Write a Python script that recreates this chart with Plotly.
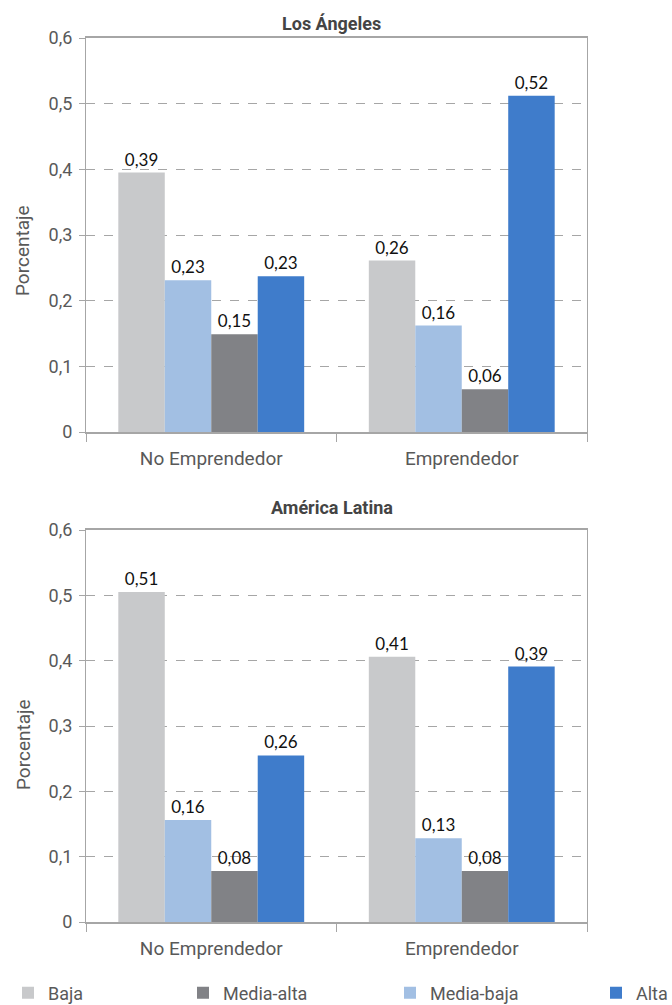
import plotly.graph_objects as go

categories = ["No Emprendedor", "Emprendedor"]
series = ["Baja", "Media-baja", "Media-alta", "Alta"]
legend_order = ["Baja", "Media-alta", "Media-baja", "Alta"]
colors = {"Baja": "#C8C9CB", "Media-baja": "#A2BFE3", "Media-alta": "#818286", "Alta": "#3F7CCB"}

# Los Ángeles
la_values = {
    "Baja": [0.395, 0.261],
    "Media-baja": [0.231, 0.162],
    "Media-alta": [0.149, 0.065],
    "Alta": [0.237, 0.512],
}
la_labels = {
    "Baja": ["0,39", "0,26"],
    "Media-baja": ["0,23", "0,16"],
    "Media-alta": ["0,15", "0,06"],
    "Alta": ["0,23", "0,52"],
}
# América Latina
al_values = {
    "Baja": [0.505, 0.406],
    "Media-baja": [0.156, 0.128],
    "Media-alta": [0.078, 0.078],
    "Alta": [0.255, 0.391],
}
al_labels = {
    "Baja": ["0,51", "0,41"],
    "Media-baja": ["0,16", "0,13"],
    "Media-alta": ["0,08", "0,08"],
    "Alta": ["0,26", "0,39"],
}

titles = ["Los Ángeles", "América Latina"]
y_title = "Porcentaje"
y_ticks = [0, 0.1, 0.2, 0.3, 0.4, 0.5, 0.6]

W, H = 672, 1005
FONT = "Roboto"
LABEL_FONT = "Lato"
AX = "#A6A6A6"
TXT = "#595959"

fig = go.Figure()
legend_names = {s: ("legend" if i == 0 else f"legend{i+1}") for i, s in enumerate(legend_order)}

for panel, (vals, labs) in enumerate([(la_values, la_labels), (al_values, al_labels)]):
    xa = "x" if panel == 0 else "x2"
    ya = "y" if panel == 0 else "y2"
    for s in series:
        fig.add_trace(go.Bar(
            x=categories, y=vals[s], name=s,
            marker=dict(color=colors[s], line=dict(width=0)),
            text=labs[s], textposition="outside",
            textfont=dict(family=LABEL_FONT, size=17, color="#111111"),
            cliponaxis=False,
            xaxis=xa, yaxis=ya,
            showlegend=(panel == 0),
            legend=legend_names[s],
            hoverinfo="skip",
        ))

def px_x(p):
    return p / W

def px_y(p):
    return 1 - p / H

xdom = [px_x(86), px_x(587)]
ydoms = [[px_y(432), px_y(38)], [px_y(922), px_y(530)]]

axis_common_x = dict(
    type="category", domain=xdom, showline=True, linecolor=AX, linewidth=2, mirror=True,
    ticks="outside", tickson="boundaries", ticklen=8, tickcolor=AX, tickwidth=1,
    tickfont=dict(family=FONT, size=19, color=TXT), showgrid=False, fixedrange=True,
    automargin=False, ticklabelstandoff=8,
)
axis_common_y = dict(
    range=[0, 0.6], tickvals=y_ticks, showline=True, linecolor=AX, linewidth=1, mirror=True,
    ticks="outside", ticklen=6, tickcolor=AX, tickwidth=1,
    tickfont=dict(family=FONT, size=18, color=TXT),
    showgrid=True, gridcolor="#A6A6A6", griddash="dash", gridwidth=1, zeroline=False,
    ticklabelstandoff=3, automargin=False,
)

layout = dict(
    width=W, height=H, margin=dict(l=0, r=0, t=0, b=0, autoexpand=False),
    paper_bgcolor="white", plot_bgcolor="white",
    barmode="group", bargap=0.258, bargroupgap=0,
    separators=",.",
    xaxis=dict(**axis_common_x, anchor="y"),
    yaxis=dict(**axis_common_y, domain=ydoms[0], anchor="x"),
    xaxis2=dict(**axis_common_x, anchor="y2"),
    yaxis2=dict(**axis_common_y, domain=ydoms[1], anchor="x2"),
    font=dict(family=FONT, color=TXT),
)

legend_text_x = {"Baja": 48, "Media-alta": 223, "Media-baja": 430, "Alta": 636}
for s in legend_order:
    layout[legend_names[s]] = dict(
        x=px_x(legend_text_x[s] - 40), xanchor="left", y=px_y(993), yanchor="middle",
        orientation="h", font=dict(family=FONT, size=18, color=TXT),
        bgcolor="rgba(0,0,0,0)",
    )

fig.update_layout(**layout)

annotations = []
for t, ty in zip(titles, [23, 507]):
    annotations.append(dict(
        text=f"<b>{t}</b>", x=px_x(331.5), y=px_y(ty), xref="paper", yref="paper",
        xanchor="center", yanchor="middle", showarrow=False,
        font=dict(family=FONT, size=18, color="#444444"),
    ))
for ty in [251, 745]:
    annotations.append(dict(
        text=y_title, x=px_x(23), y=px_y(ty), xref="paper", yref="paper",
        xanchor="center", yanchor="middle", showarrow=False, textangle=-90,
        font=dict(family=FONT, size=19, color=TXT),
    ))
fig.update_layout(annotations=annotations)

fig.write_html(
    "out.html",
    config={"displayModeBar": False},
    post_script="document.body.style.margin='0px';document.body.style.overflow='hidden';",
)
